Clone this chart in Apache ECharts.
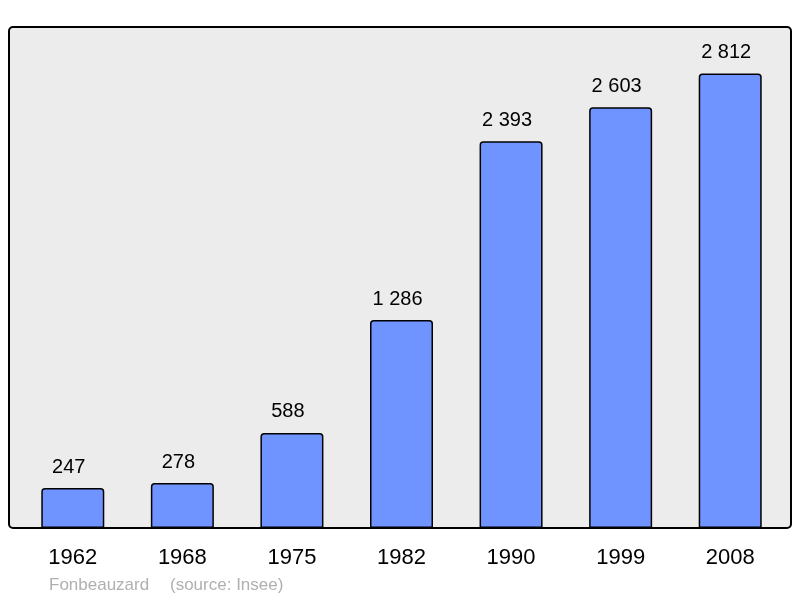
<!DOCTYPE html>
<html><head><meta charset="utf-8">
<script src="https://cdn.jsdelivr.net/npm/echarts@6/dist/echarts.min.js"></script>
<style>html,body{margin:0;padding:0;background:#fff}#c{width:800px;height:598px}</style>
</head><body><div id="c"></div>
<script>
var years = ['1962','1968','1975','1982','1990','1999','2008'];
var population = [247, 278, 588, 1286, 2393, 2603, 2812];
var yMax = 3093;
var placeName = 'Fonbeauzard';
var sourceNote = '(source: Insee)';

function fmt(v){ return String(v).replace(/\B(?=(\d{3})+(?!\d))/g, ' '); }

var FONT = '"Liberation Sans", Arial, sans-serif';
var chart = echarts.init(document.getElementById('c'), null, {renderer:'canvas'});
chart.setOption({
  animation: false,
  backgroundColor: '#ffffff',
  graphic: [
    {type:'rect', z:-10, shape:{x:9, y:27, width:782, height:501, r:4},
     style:{fill:'#ececec', stroke:'#000', lineWidth:2}},
    {type:'text', left:49, top:577, style:{text:placeName, fill:'#b0b0b0', font:'17px ' + FONT}},
    {type:'text', left:170, top:577, style:{text:sourceNote, fill:'#b0b0b0', font:'17px ' + FONT}}
  ],
  grid: {left:18, right:15, top:28, bottom:70},
  xAxis: {
    type:'category', data: years,
    axisLine:{show:false}, axisTick:{show:false},
    axisLabel:{color:'#000', fontSize:22, margin:19, fontFamily:FONT}
  },
  yAxis: {type:'value', min:0, max:yMax, show:false, splitLine:{show:false}},
  series: [{
    type:'bar', data: population, barWidth:'57.5%',
    itemStyle:{color:'#7094ff', borderColor:'#000', borderWidth:1.5, borderRadius:[3,3,0,0]},
    label:{show:true, position:'top', distance:11, offset:[-4,0], color:'#000', fontSize:20,
      fontFamily:FONT,
      formatter:function(p){return fmt(p.value);}}
  }]
});
</script></body></html>
